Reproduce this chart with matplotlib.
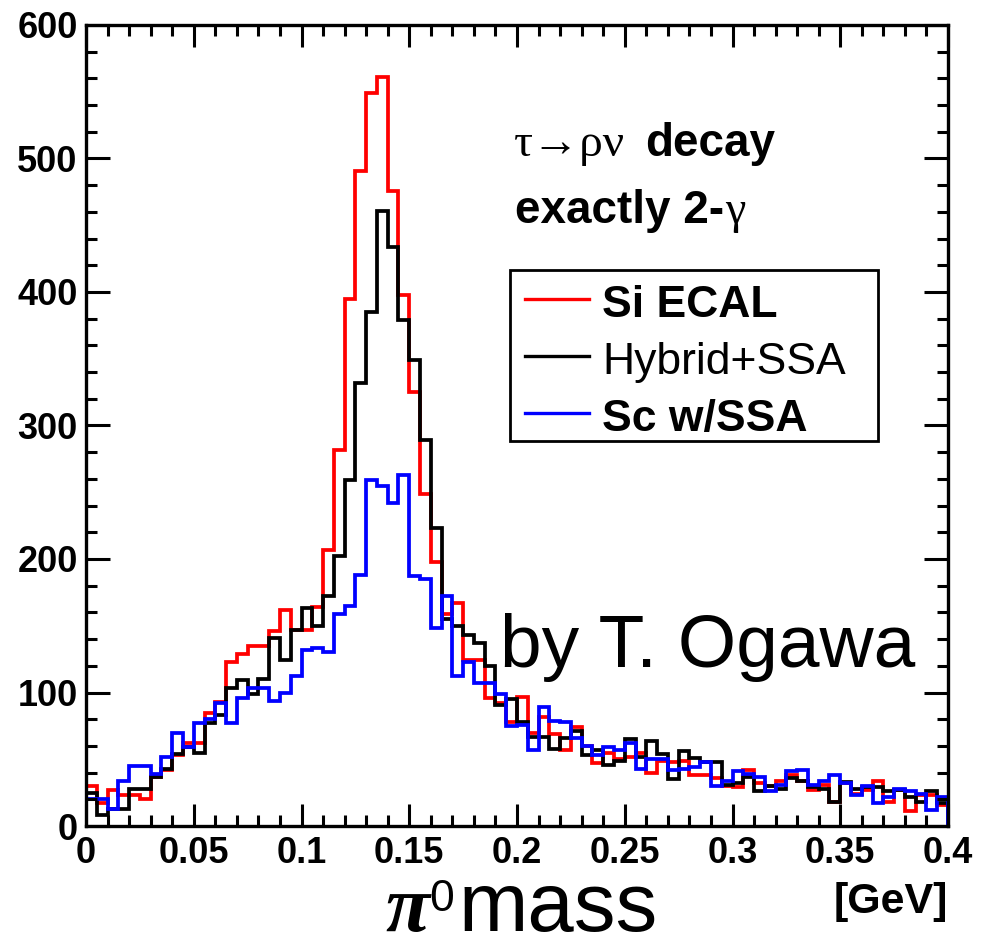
import numpy as np
import matplotlib
matplotlib.use("Agg")
import matplotlib.pyplot as plt
from matplotlib.patches import Rectangle
from matplotlib.lines import Line2D
from matplotlib.ticker import MultipleLocator, FuncFormatter

# ---------------- data (80 bins of 5 MeV, 0 - 0.4 GeV) ----------------
x_min, x_max, n_bins = 0.0, 0.4, 80

si_ecal = [30, 17, 27, 23, 23, 20, 37, 42, 53, 62,
           62, 85, 93, 123, 129, 135, 135, 146, 162, 147,
           147, 164, 207, 282, 395, 491, 549, 561, 476, 398,
           325, 249, 198, 159, 167, 124, 124, 96, 92, 78,
           97, 70, 82, 69, 57, 74, 60, 47, 55, 50,
           52, 55, 40, 49, 48, 49, 38, 38, 36, 30,
           29, 42, 32, 30, 34, 38, 34, 27, 31, 18,
           32, 24, 27, 34, 18, 27, 11, 23, 23, 16]

hybrid_ssa = [25, 8, 13, 13, 28, 28, 37, 43, 54, 59,
              55, 77, 83, 103, 109, 99, 110, 141, 124, 147,
              163, 150, 172, 202, 259, 332, 385, 461, 434, 379,
              349, 289, 223, 155, 150, 143, 137, 120, 91, 95,
              78, 67, 67, 58, 66, 71, 53, 57, 46, 49,
              65, 52, 64, 54, 35, 56, 51, 48, 48, 31,
              32, 37, 26, 30, 28, 36, 34, 29, 28, 18,
              33, 28, 29, 29, 26, 27, 22, 18, 26, 17]

sc_ssa = [20, 20, 13, 34, 45, 45, 39, 52, 70, 59,
          77, 80, 92, 77, 96, 103, 103, 94, 100, 112,
          132, 133, 130, 159, 165, 188, 259, 255, 242, 263,
          187, 185, 148, 172, 112, 123, 107, 107, 99, 75,
          76, 57, 89, 79, 78, 66, 60, 53, 59, 57,
          62, 43, 50, 50, 42, 43, 44, 48, 30, 34,
          41, 39, 37, 26, 31, 41, 42, 31, 34, 38,
          32, 23, 30, 17, 22, 28, 26, 24, 12, 22]

series_labels = ["Si ECAL", "Hybrid+SSA", "Sc w/SSA"]
series_colors = ["#ff0000", "#000000", "#0000ff"]
series_weights = ["bold", "normal", "bold"]

# ---------------- figure ----------------
W, H = 998, 952
fig = plt.figure(figsize=(W / 100, H / 100), dpi=100)
fig.patch.set_facecolor("white")


def fx(px):
    return px / W


def fy(py):
    return 1 - py / H


L, R, T, B = 86, 948, 25, 826
ax = fig.add_axes([fx(L), fy(B), (R - L) / W, (B - T) / H])

edges = np.linspace(x_min, x_max, n_bins + 1)
for vals, col in zip([si_ecal, hybrid_ssa, sc_ssa], series_colors):
    ax.stairs(vals, edges, color=col, linewidth=2.7, baseline=0)

ax.set_xlim(x_min, x_max)
ax.set_ylim(0, 600)

ax.xaxis.set_major_locator(MultipleLocator(0.05))
ax.xaxis.set_minor_locator(MultipleLocator(0.01))
ax.yaxis.set_major_locator(MultipleLocator(100))
ax.yaxis.set_minor_locator(MultipleLocator(20))
ax.xaxis.set_major_formatter(FuncFormatter(lambda v, p: "%g" % round(v, 3)))
ax.yaxis.set_major_formatter(FuncFormatter(lambda v, p: "%d" % round(v)))

ax.tick_params(which="both", direction="in", top=True, right=True,
               width=2.2, color="black")
ax.tick_params(axis="y", which="major", length=17, pad=6)
ax.tick_params(axis="x", which="major", length=16, pad=7)
ax.tick_params(which="minor", length=8)

for lab in ax.get_xticklabels() + ax.get_yticklabels():
    lab.set_fontfamily(["Liberation Sans", "DejaVu Sans"])
    lab.set_fontweight("bold")
    lab.set_fontsize(26)

for sp in ax.spines.values():
    sp.set_linewidth(2.4)

# ---------------- annotation texts ----------------
serif = ["Liberation Serif", "DejaVu Serif"]
sans = ["Liberation Sans", "DejaVu Sans"]

fig.text(fx(514), fy(156), "τ→ρν", family=serif, fontsize=34,
         ha="left", va="baseline")
fig.text(fx(645), fy(156), "decay", family=sans, fontsize=33,
         fontweight="bold", ha="left", va="baseline")
fig.text(fx(515), fy(223), "exactly 2-", family=sans, fontsize=33,
         fontweight="bold", ha="left", va="baseline")
fig.text(fx(725), fy(223), "γ", family=serif, fontsize=33,
         ha="left", va="baseline")

# legend box
fig.patches.append(Rectangle((fx(510), fy(441)), (878 - 510) / W, (441 - 270) / H,
                             transform=fig.transFigure, fill=False,
                             edgecolor="black", linewidth=2.0))
for i, (lab, col, wt) in enumerate(zip(series_labels, series_colors, series_weights)):
    yl = 299 + 57 * i
    fig.lines.append(Line2D([fx(525), fx(589)], [fy(yl), fy(yl)],
                            transform=fig.transFigure, color=col, linewidth=2.4))
    fig.text(fx(602), fy(yl + 18), lab, family=sans, fontsize=32,
             fontweight=wt, ha="left", va="baseline")

fig.text(fx(500), fy(667), "by T. Ogawa", family=sans, fontsize=54,
         ha="left", va="baseline")

# axis titles
fig.text(fx(948), fy(913), "[GeV]", family=sans, fontsize=31,
         fontweight="bold", ha="right", va="baseline")
fig.text(fx(385), fy(931), "π", family=serif, fontsize=58, fontweight="bold",
         style="italic", ha="left", va="baseline")
fig.text(fx(429), fy(911), "0", family=sans, fontsize=32,
         ha="left", va="baseline")
fig.text(fx(458), fy(931), "mass", family=sans, fontsize=60,
         ha="left", va="baseline")

fig.savefig("out.png", dpi=100)
